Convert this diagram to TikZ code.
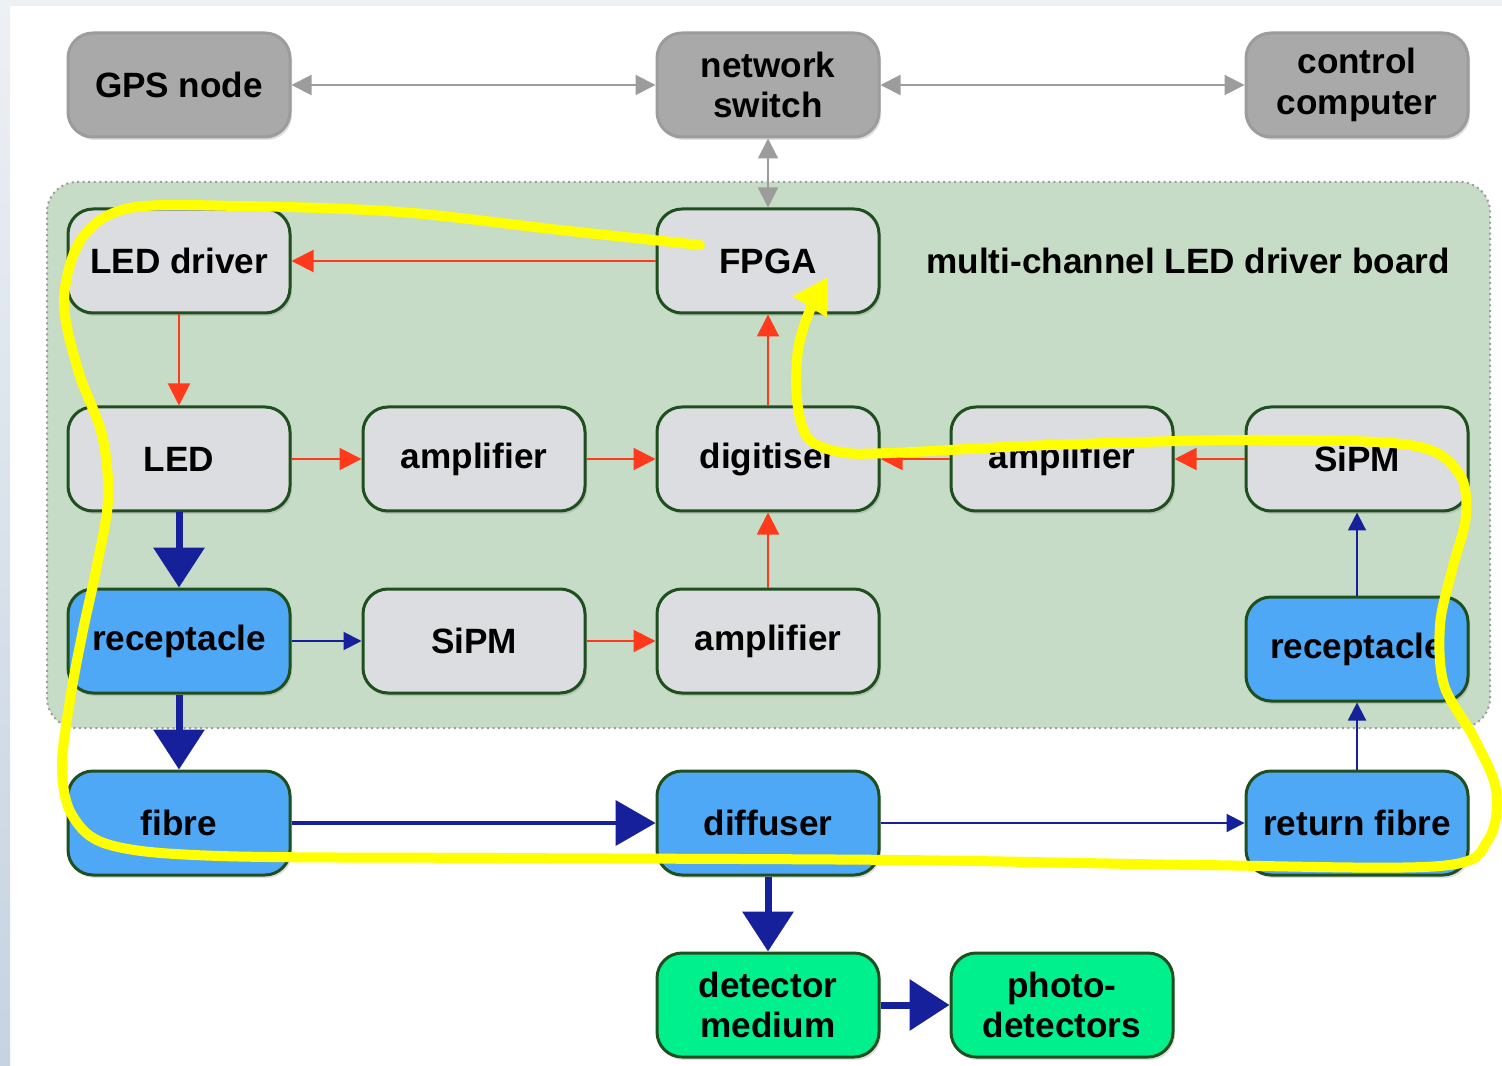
\documentclass[tikz,border=0pt]{standalone}
\usepackage{fontspec}
\setmainfont{Liberation Sans}
\usetikzlibrary{arrows.meta,shadows}

\definecolor{boxgrey}{HTML}{A9A9A9}
\definecolor{linegrey}{HTML}{9C9C9C}
\definecolor{boxlight}{HTML}{DCDDE0}
\definecolor{edgegreen}{HTML}{1F4F1F}
\definecolor{fibreblue}{HTML}{4FA8F6}
\definecolor{mediumgreen}{HTML}{00F08E}
\definecolor{boardgreen}{HTML}{C6DCC6}
\definecolor{sigred}{HTML}{FF3A1C}
\definecolor{lightnavy}{HTML}{15209A}
\definecolor{pageedge}{HTML}{EDF0F4}
\definecolor{pageside}{HTML}{C6D3E1}
\definecolor{markyellow}{HTML}{FFFF00}

\tikzset{
  unit/.style={rounded corners=0.25cm, minimum width=2.22cm, minimum height=1.04cm,
    align=center, font=\bfseries\fontsize{10}{11.5}\selectfont,
    line width=0.03cm, draw=edgegreen, fill=boxlight,
    drop shadow={opacity=0.25, shadow xshift=0.02cm, shadow yshift=-0.03cm}},
  netbox/.style={unit, draw=linegrey, fill=boxgrey},
  fibrebox/.style={unit, fill=fibreblue},
  mediumbox/.style={unit, fill=mediumgreen},
  board/.style={rounded corners=0.3cm, densely dotted, line width=0.02cm, draw=linegrey, fill=boardgreen},
  net/.style={linegrey, line width=0.02cm,
    {Triangle[length=0.2cm,width=0.2cm]}-{Triangle[length=0.2cm,width=0.2cm]}},
  sig/.style={sigred, line width=0.02cm, -{Triangle[length=0.22cm,width=0.22cm]}},
  lightthin/.style={lightnavy, line width=0.02cm, -{Triangle[length=0.18cm,width=0.18cm]}},
  lightfat/.style={lightnavy, line width=0.07cm, -{Triangle[length=0.4cm,width=0.5cm]}},
}

\begin{document}
\begin{tikzpicture}
            \useasboundingbox (0,0) rectangle (15.02,-10.66);
            \fill[pageedge] (0,0) rectangle (15.02,-0.06);
            \shade[top color=pageedge, bottom color=pageside] (0,0) rectangle (0.1,-10.66);

            % driver board
            \draw[board] (0.47,-1.82) rectangle (14.90,-7.28);
            \node[font=\bfseries\fontsize{10}{12}\selectfont] (boardlabel) at (11.88,-2.61){multi-channel LED driver board};

            % network
            \node[netbox] (gps) at (1.79,-0.85){GPS node};
            \node[netbox] (switch) at (7.68,-0.85){network\\switch};
            \node[netbox] (pc) at (13.57,-0.85){control\\computer};

            % board electronics
            \node[unit] (driver) at (1.79,-2.61){LED driver};
            \node[unit] (fpga) at (7.68,-2.61){FPGA};
            \node[unit] (led) at (1.79,-4.59){LED};
            \node[unit] (amp1) at (4.74,-4.59){amplifier};
            \node[unit] (digi) at (7.68,-4.59){digitiser};
            \node[unit] (amp2) at (10.62,-4.59){amplifier};
            \node[unit] (sipm2) at (13.57,-4.59){SiPM};
            \node[fibrebox] (rec1) at (1.79,-6.41){receptacle};
            \node[unit] (sipm1) at (4.74,-6.41){SiPM};
            \node[unit] (amp3) at (7.68,-6.41){amplifier};
            \node[fibrebox] (rec2) at (13.57,-6.49){receptacle};

            % optics
            \node[fibrebox] (fibre) at (1.79,-8.23){fibre};
            \node[fibrebox] (diffuser) at (7.68,-8.23){diffuser};
            \node[fibrebox] (retfibre) at (13.57,-8.23){return fibre};
            \node[mediumbox] (medium) at (7.68,-10.05){detector\\medium};
            \node[mediumbox] (photo) at (10.62,-10.05){photo-\\detectors};

            \draw[net] (gps) -- (switch);
            \draw[net] (switch) -- (pc);
            \draw[net] (switch) -- (fpga);

            \draw[sig] (fpga) -- (driver);
            \draw[sig] (driver) -- (led);
            \draw[sig] (led) -- (amp1);
            \draw[sig] (amp1) -- (digi);
            \draw[sig] (digi) -- (fpga);
            \draw[sig] (amp2) -- (digi);
            \draw[sig] (sipm2) -- (amp2);
            \draw[sig] (sipm1) -- (amp3);
            \draw[sig] (amp3) -- (digi);

            \draw[lightfat] (led) -- (rec1);
            \draw[lightfat] (rec1) -- (fibre);
            \draw[lightthin] (rec1) -- (sipm1);
            \draw[lightfat, line width=0.04cm, -{Triangle[length=0.4cm,width=0.45cm]}] (fibre) -- (diffuser);
            \draw[lightthin] (diffuser) -- (retfibre);
            \draw[lightthin] (retfibre) -- (rec2);
            \draw[lightthin] (rec2) -- (sipm2);
            \draw[lightfat] (diffuser) -- (medium);
            \draw[lightfat] (medium) -- (photo);

            % calibration loop
            \coordinate (loopstart) at (7.00,-2.45);
            \coordinate (loopend) at (8.28,-2.77);
            \draw[markyellow, line width=0.1cm, line cap=round, -{Triangle[length=0.35cm,width=0.38cm]}]
              plot[smooth, tension=0.55] coordinates {(loopstart) (5.60,-2.30) (4.00,-2.12) (2.40,-2.06)
              (1.30,-2.08) (0.82,-2.38) (0.64,-3.00) (0.78,-3.70) (1.02,-4.35) (1.08,-5.00)
              (0.96,-5.70) (0.82,-6.35) (0.70,-7.00) (0.62,-7.67) (0.72,-8.15) (1.10,-8.45)
              (2.20,-8.56) (5.00,-8.58) (9.00,-8.60) (12.00,-8.65) (14.40,-8.66) (14.88,-8.40)
              (14.96,-7.90) (14.74,-7.38) (14.44,-6.85) (14.40,-6.25) (14.52,-5.70) (14.66,-5.15)
              (14.58,-4.72) (14.10,-4.45) (12.50,-4.40) (10.50,-4.45) (8.90,-4.53) (8.40,-4.52)
              (8.08,-4.38) (7.97,-4.00) (7.98,-3.50) (8.10,-3.10) (loopend)};
        \end{tikzpicture}
\end{document}
